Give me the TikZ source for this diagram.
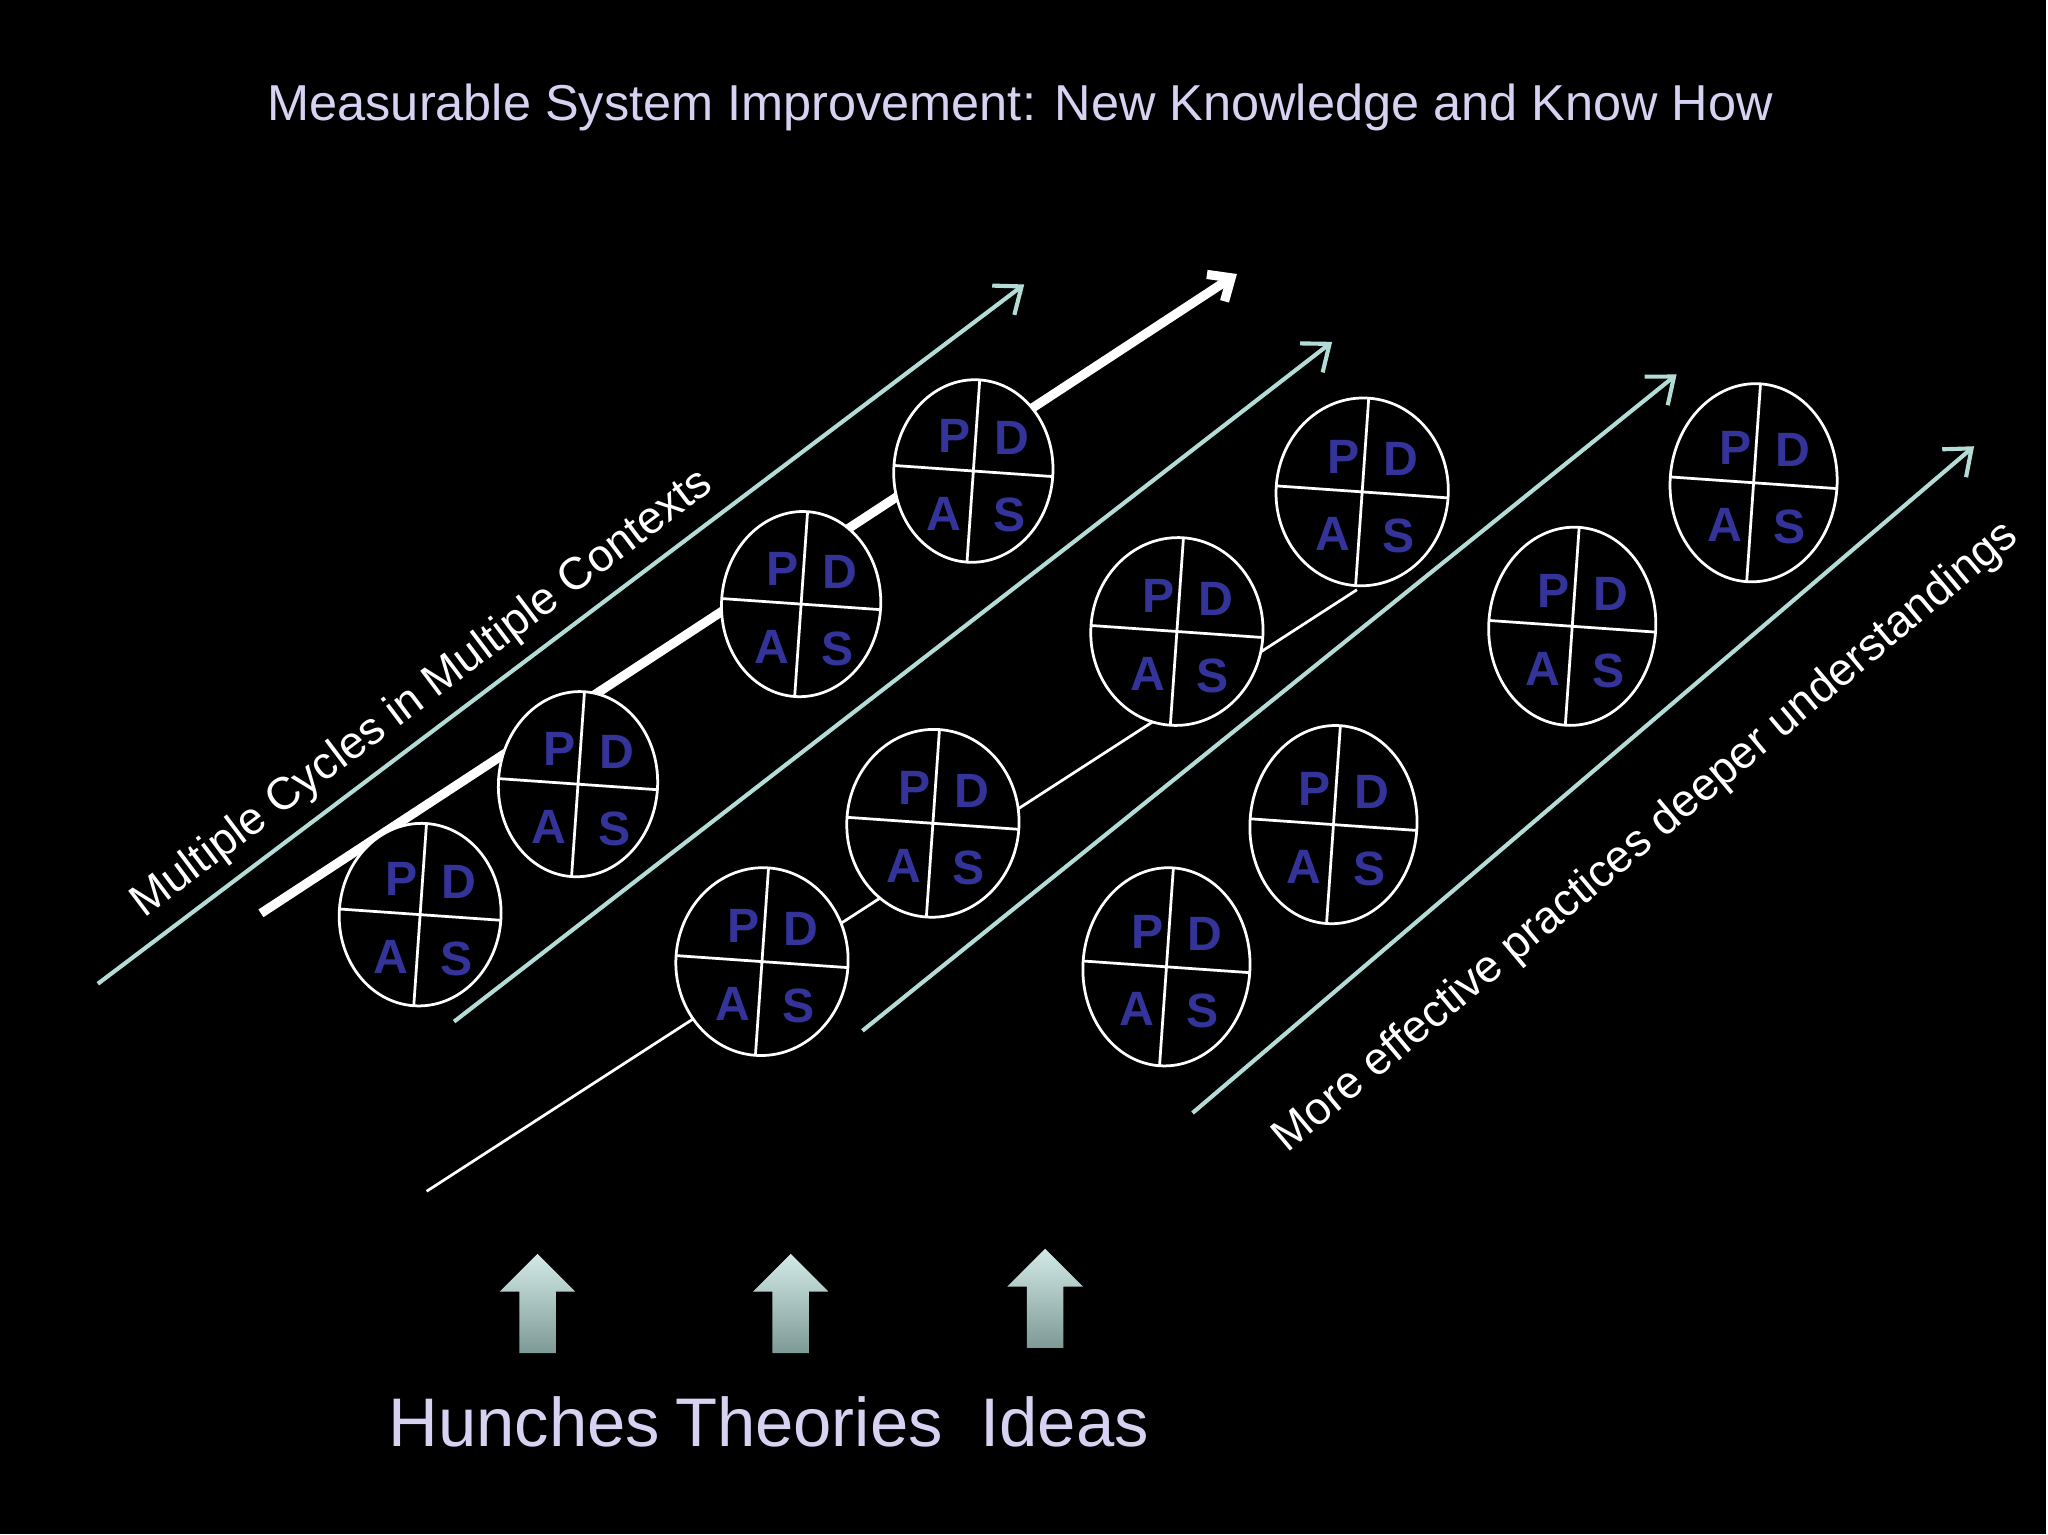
\documentclass[tikz,border=0pt]{standalone}
\usepackage{fontspec}
\setmainfont{Liberation Sans}
\usetikzlibrary{arrows.meta}
\definecolor{teal1}{HTML}{B4DCD6}
\definecolor{lav}{HTML}{D8D2F2}
\definecolor{pdsa}{HTML}{33339A}
\tikzset{
  tealarr/.style={draw=teal1,line width=0.9pt,-{Straight Barb[length=5pt,width=8pt]}},
  cyc/.style={draw=white,fill=black,line width=0.6pt},
  let/.style={text=pdsa,font=\bfseries\fontsize{10.5}{10.5}\selectfont},
  uparr/.style={top color=teal1!60!white,bottom color=teal1!70!black,draw=none}
}
\newcommand{\pdsa}[4]{% x y rx ry
  \begin{scope}[shift={(#1,-#2)},rotate=-4]
    \draw[cyc] (0,0) ellipse ({#3} and {#4});
    \draw[white,line width=0.6pt] (-#3,0) -- (#3,0) (0,-#4) -- (0,#4);
    \node[let] at (-16,26) {P};
    \node[let] at (28,27) {D};
    \node[let] at (-20,-34) {A};
    \node[let] at (30,-32) {S};
  \end{scope}}
\begin{document}
\begin{tikzpicture}[x=0.01cm,y=0.01cm]
\fill[black] (0,0) rectangle (1568,-1176);
\node[text=lav,font=\fontsize{11}{11}\selectfont] (title) at (782,-82) {Measurable System Improvement: New Knowledge and Know How};
\coordinate (a1) at (75,-754); \coordinate (b1) at (785,-218);
\coordinate (a2) at (200,-700); \coordinate (b2) at (948,-210);
\coordinate (a3) at (348,-783); \coordinate (b3) at (1021,-262);
\coordinate (a4) at (327,-913); \coordinate (b4) at (1040,-452);
\coordinate (a5) at (661,-790); \coordinate (b5) at (1285,-287);
\coordinate (a6) at (914,-853); \coordinate (b6) at (1513,-342);
\draw[tealarr] (a1) -- (b1);
\draw[white,line width=2pt,-{Straight Barb[length=4pt,width=7pt]}] (a2) -- (b2);
\draw[tealarr] (a3) -- (b3);
\draw[white,line width=0.6pt] (a4) -- (b4);
\draw[tealarr] (a5) -- (b5);
\draw[tealarr] (a6) -- (b6);
\pdsa{322}{701}{62}{70}
\pdsa{443}{601}{61}{71}
\pdsa{614}{463}{61}{71}
\pdsa{746}{361}{61}{70}
\pdsa{584}{737}{66}{72}
\pdsa{715}{631}{66}{72}
\pdsa{902}{484}{66}{72}
\pdsa{1044}{377}{66}{72}
\pdsa{894}{741}{64}{76}
\pdsa{1022}{632}{64}{76}
\pdsa{1205}{480}{64}{76}
\pdsa{1344}{370}{64}{76}
\node[white,rotate=37,font=\fontsize{9.9}{9.9}\selectfont] (t1) at (324,-532) {Multiple Cycles in Multiple Contexts};
\node[white,rotate=40,font=\fontsize{9.9}{9.9}\selectfont] (t2) at (1262,-642) {More effective practices deeper understandings};
\foreach \x/\y in {412/0,606/0,801/-4}{
  \shade[uparr] (\x-14,-1037-\y) -- (\x-14,-990-\y) -- (\x-29,-990-\y) -- (\x,-961-\y) -- (\x+29,-990-\y) -- (\x+14,-990-\y) -- (\x+14,-1037-\y) -- cycle;
}
\node[text=lav,font=\fontsize{15}{15}\selectfont] (h) at (402,-1090) {Hunches};
\node[text=lav,font=\fontsize{15}{15}\selectfont] (th) at (620,-1090) {Theories};
\node[text=lav,font=\fontsize{15}{15}\selectfont] (id) at (816,-1090) {Ideas};
\end{tikzpicture}
\end{document}
